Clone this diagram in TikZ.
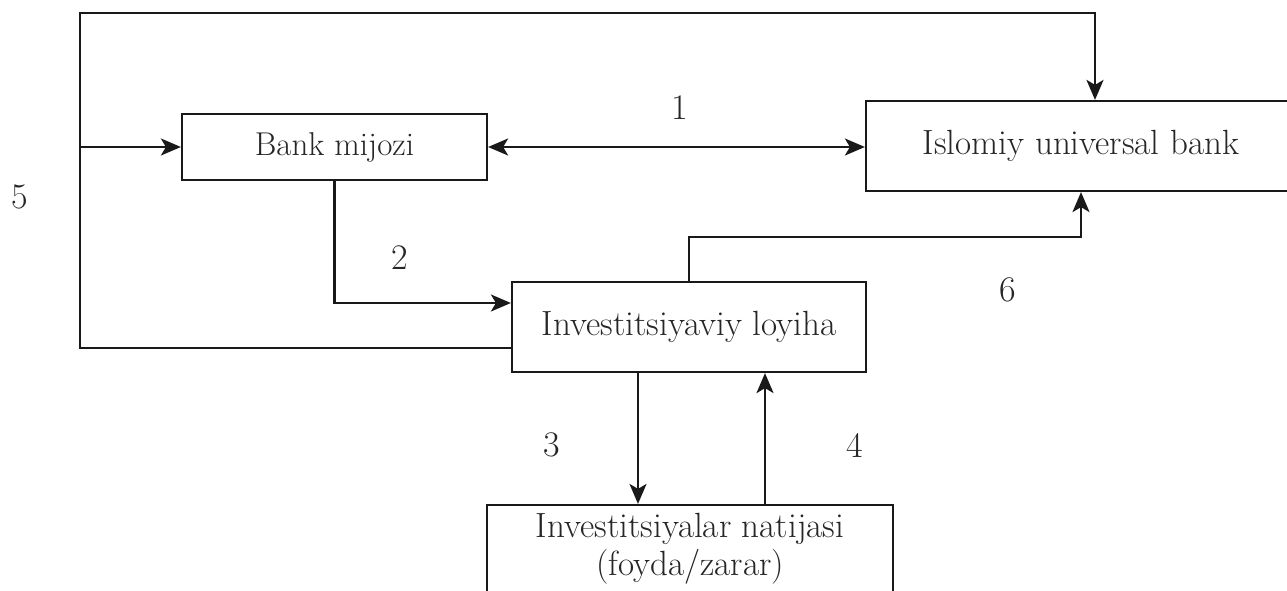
\documentclass[tikz,border=0pt]{standalone}
\usetikzlibrary{arrows.meta}
\begin{document}
\begin{tikzpicture}[x=1pt,y=-1pt,
  txt/.style={text=black!85, font=\fontsize{35}{38}\selectfont, inner sep=0pt, align=center},
  box/.style={draw=black!90, line width=2.2pt, rectangle, inner sep=0pt, txt},
  conn/.style={draw=black!90, line width=2.2pt},
  arr/.style={conn, -{Stealth[length=20pt,width=17pt,inset=5pt]}},
  arrtwo/.style={conn, {Stealth[length=20pt,width=17pt,inset=5pt]}-{Stealth[length=20pt,width=17pt,inset=5pt]}},
  num/.style={text=black!85, font=\fontsize{36}{40}\selectfont, inner sep=0pt}]
\clip (0,0) rectangle (1287,591);
\fill[white] (0,0) rectangle (1287,591);
% boxes
\node[box, minimum width=305pt, minimum height=66pt, font=\fontsize{33}{38}\selectfont] (bank) at (334.5,147) {Bank mijozi};
\node[box, minimum width=424pt, minimum height=90pt] (islom) at (1078,146) {};
\node[txt] (islomtext) at (1081,146) {Islomiy universal bank};
\node[box, minimum width=354pt, minimum height=90pt] (inv) at (689,327) {Investitsiyaviy loyiha};
\node[box, minimum width=406pt, minimum height=96pt] (res) at (690,553) {};
\node[txt] (restext) at (690,549) {Investitsiyalar natijasi\\(foyda/zarar)};
% helper coordinates
\coordinate (c5) at (80,348);
\coordinate (tl) at (80,13);
\coordinate (tr) at (1095,13);
\coordinate (c2) at (335,303);
\coordinate (c6) at (1081,237);
\coordinate (c3) at (638,440);
\coordinate (c4) at (765,440);
% connectors
\draw[arr] (inv.west |- c5) -- (c5) -- (tl) -- (tr) -- (tr |- islom.north);
\draw[arr] (tl |- bank.west) -- (bank.west);
\draw[arrtwo] (bank.east) -- (bank.east -| islom.west);
\draw[arr] (bank.south) |- (inv.west |- c2);
\draw[arr] (inv.north) |- (c6) -- (c6 |- islom.south);
\draw[arr] (inv.south -| c3) -- (res.north -| c3);
\draw[arr] (res.north -| c4) -- (inv.south -| c4);
% labels
\node[num] (n1) at (680,108) {1};
\node[num] (n2) at (400,258) {2};
\node[num] (n3) at (552,445) {3};
\node[num] (n4) at (855,445) {4};
\node[num] (n5) at (20,197) {5};
\node[num] (n6) at (1008,290) {6};
\end{tikzpicture}
\end{document}
